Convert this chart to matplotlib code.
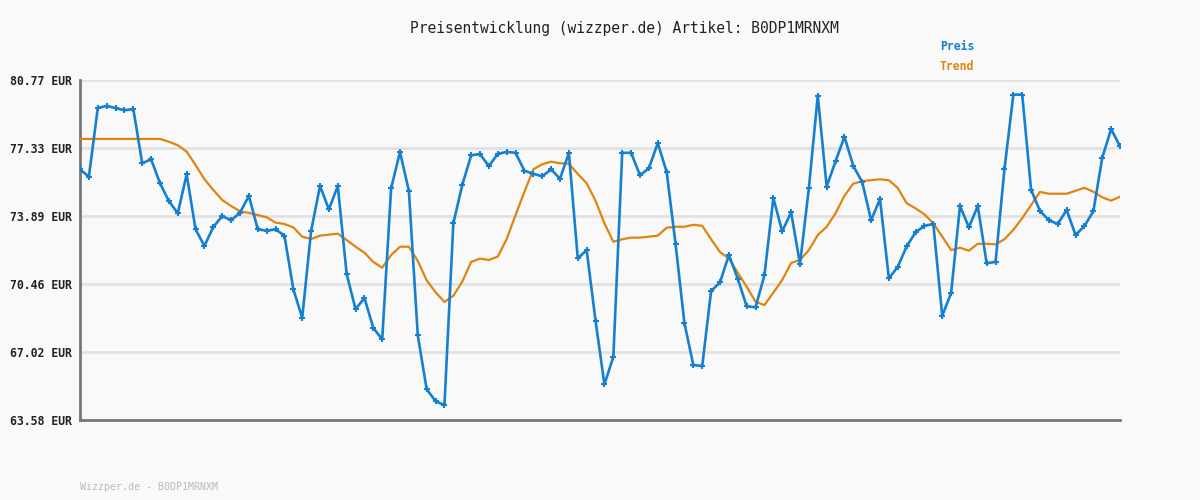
import matplotlib
matplotlib.use("Agg")
import matplotlib.pyplot as plt

# price readings (EUR), one per sample
preis = [76.25, 75.88, 79.35, 79.46, 79.35, 79.24, 79.30, 76.56, 76.76, 75.55,
         74.65, 74.03, 76.00, 73.22, 72.38, 73.34, 73.89, 73.68, 74.06, 74.91,
         73.22, 73.15, 73.22, 72.90, 70.19, 68.75, 73.14, 75.41, 74.23, 75.41,
         70.96, 69.18, 69.75, 68.23, 67.66, 75.29, 77.13, 75.16, 67.86, 65.13,
         64.54, 64.32, 73.52, 75.45, 76.96, 77.03, 76.41, 77.04, 77.13, 77.09,
         76.18, 76.03, 75.90, 76.25, 75.78, 77.08, 71.75, 72.17, 68.59, 65.38,
         66.77, 77.09, 77.09, 75.95, 76.31, 77.58, 76.12, 72.48, 68.47, 66.36,
         66.31, 70.10, 70.54, 71.92, 70.72, 69.33, 69.28, 70.90, 74.80, 73.12,
         74.08, 71.47, 75.31, 79.98, 75.38, 76.66, 77.90, 76.42, 75.61, 73.68,
         74.75, 70.74, 71.33, 72.36, 73.07, 73.40, 73.49, 68.85, 70.00, 74.40,
         73.32, 74.40, 71.50, 71.58, 76.25, 80.03, 80.03, 75.21, 74.15, 73.68,
         73.49, 74.20, 72.93, 73.39, 74.13, 76.83, 78.29, 77.42]

trend = [77.79, 77.79, 77.79, 77.79, 77.79, 77.79, 77.79, 77.79, 77.79, 77.79,
         77.65, 77.47, 77.15, 76.47, 75.75, 75.21, 74.70, 74.40, 74.13, 74.05,
         73.94, 73.83, 73.56, 73.49, 73.32, 72.85, 72.73, 72.90, 72.95, 73.00,
         72.68, 72.34, 72.04, 71.57, 71.28, 71.92, 72.34, 72.34, 71.62, 70.64,
         70.04, 69.55, 69.86, 70.57, 71.57, 71.74, 71.67, 71.84, 72.73, 73.94,
         75.12, 76.25, 76.51, 76.64, 76.56, 76.54, 76.02, 75.55, 74.66, 73.52,
         72.59, 72.72, 72.80, 72.80, 72.85, 72.90, 73.30, 73.35, 73.35, 73.45,
         73.40, 72.72, 72.07, 71.75, 71.03, 70.32, 69.56, 69.39, 70.02, 70.66,
         71.52, 71.67, 72.17, 72.93, 73.35, 74.03, 74.92, 75.53, 75.65, 75.71,
         75.75, 75.70, 75.31, 74.54, 74.28, 73.98, 73.52, 72.85, 72.17, 72.29,
         72.14, 72.49, 72.49, 72.46, 72.72, 73.19, 73.79, 74.45, 75.11, 75.02,
         75.02, 75.02, 75.17, 75.32, 75.12, 74.84, 74.67, 74.87]

y_ticks = [63.58, 67.02, 70.46, 73.89, 77.33, 80.77]
artikel = "B0DP1MRNXM"

blue = "#1580cf"
orange = "#e0840f"
bg = "#f9f9f9"
mono = "DejaVu Sans Mono"

fig = plt.figure(figsize=(12, 5), dpi=100, facecolor=bg)
ax = fig.add_axes([80 / 1200, 80 / 500, 1040 / 1200, 340 / 500], facecolor=bg)

x = list(range(len(preis)))
ax.plot(x, trend, color=orange, lw=1.6, zorder=3, solid_joinstyle="round")
ax.plot(x, preis, color=blue, lw=1.9, marker="+", ms=4.5, mew=1.5, zorder=4,
        solid_joinstyle="round")

ax.set_xlim(0, len(preis) - 1)
ax.set_ylim(y_ticks[0], y_ticks[-1])
ax.set_yticks(y_ticks)
ax.set_yticklabels(["%.2f EUR" % v for v in y_ticks], fontfamily=mono,
                   fontweight="bold", fontsize=8.3, color="#222222")
ax.set_xticks([])
ax.tick_params(axis="y", length=0, pad=6)
ax.grid(axis="y", color="#e2e2e2", lw=2, zorder=0)

for s in ["top", "right"]:
    ax.spines[s].set_visible(False)
for s in ["left", "bottom"]:
    ax.spines[s].set_color("#777777")
    ax.spines[s].set_linewidth(2)

fig.text(624 / 1200, 1 - 28 / 500, "Preisentwicklung (wizzper.de) Artikel: " + artikel,
         ha="center", va="center", fontfamily=mono, fontsize=10.5, color="#222222")
fig.text(940 / 1200, 1 - 47 / 500, "Preis", ha="left", va="center",
         fontfamily=mono, fontweight="bold", fontsize=8.3, color=blue)
fig.text(940 / 1200, 1 - 67 / 500, "Trend", ha="left", va="center",
         fontfamily=mono, fontweight="bold", fontsize=8.3, color=orange)
fig.text(80 / 1200, 1 - 487 / 500, "Wizzper.de - " + artikel, ha="left", va="center",
         fontfamily=mono, fontsize=7.2, color="#bbbbbb")

fig.savefig("out.png", dpi=100, facecolor=bg)
